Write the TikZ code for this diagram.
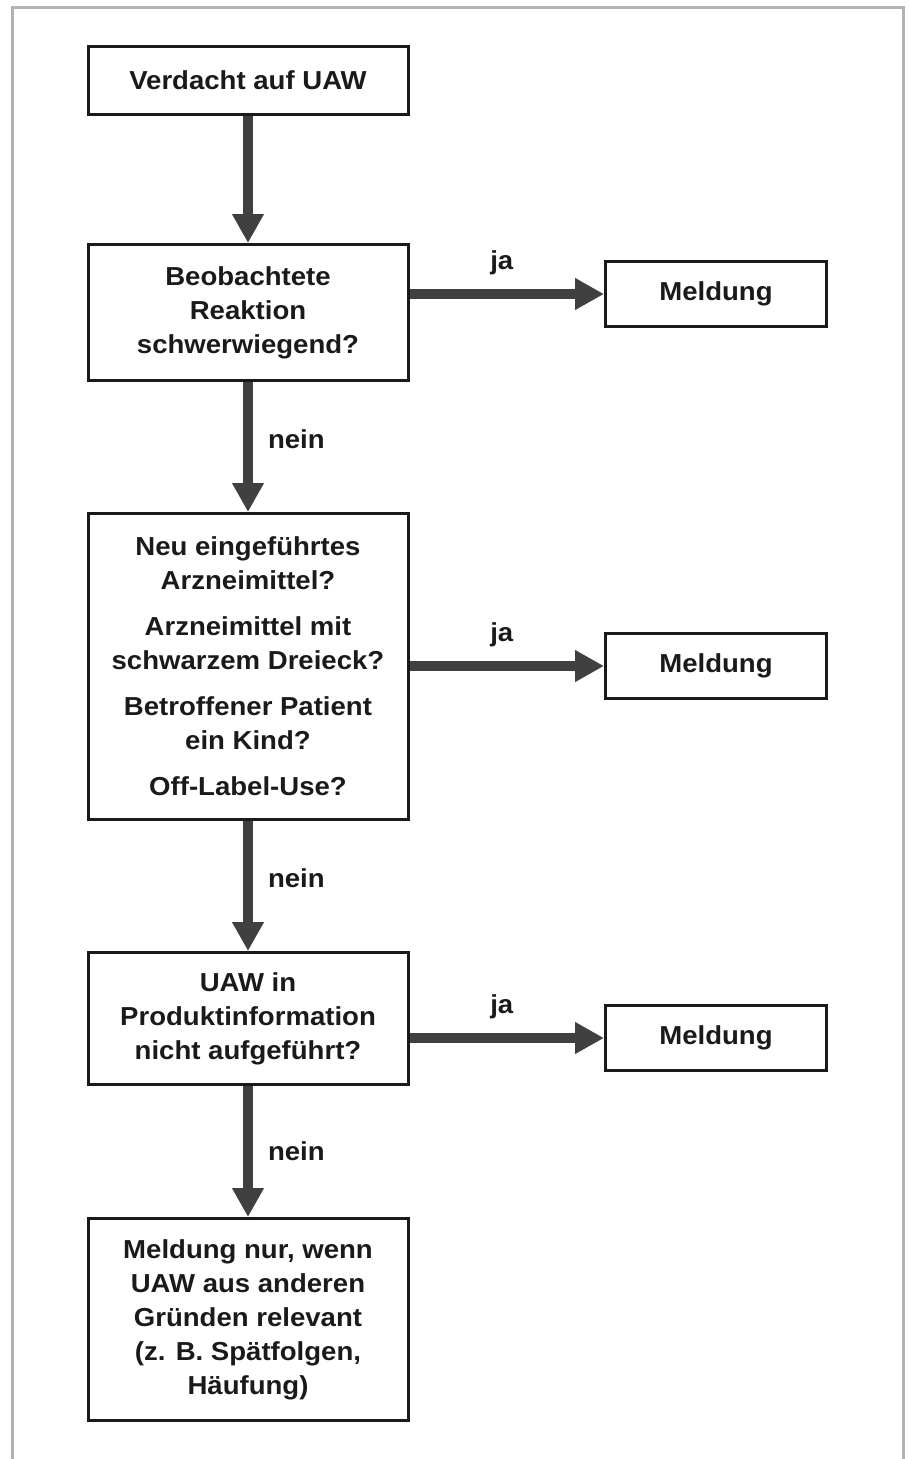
\documentclass[tikz,border=0pt]{standalone}
\usepackage{fontspec}
\setmainfont{Liberation Sans}[FakeStretch=1.06]
\usetikzlibrary{arrows.meta}
\definecolor{arrowgray}{HTML}{404040}
\definecolor{framegray}{HTML}{B3B3B3}
\definecolor{inkblack}{HTML}{1A1A1A}

\begin{document}
\begin{tikzpicture}[x=1pt,y=-1pt]
\tikzstyle{box}=[draw=inkblack,line width=3pt,minimum width=320pt,align=center,inner sep=0pt,text=inkblack,font=\fontsize{26}{34}\selectfont\bfseries];
\tikzstyle{meld}=[box,minimum width=221pt,minimum height=65pt];
\tikzstyle{flow}=[draw=arrowgray,line width=10pt,-{Triangle[width=30pt,length=29pt]}];
\tikzstyle{ans}=[inner sep=0pt,text=inkblack,font=\fontsize{26}{30}\selectfont\bfseries];
\useasboundingbox (0,0) rectangle (908,1459);
\draw [framegray,line width=3pt] (12.5,1460) -- (12.5,7) -- (903.5,7) -- (903.5,1460);

\node [box,minimum height=68pt] (b1) at (248,80.5) {Verdacht auf UAW};
\node [box,minimum height=136pt] (b2) at (248,312.5) {Beobachtete\\Reaktion\\schwerwiegend?};
\node [meld] (m1) at (716,294) {Meldung};
\node [box,minimum height=306pt] (b3) at (248,666.5) {Neu eingeführtes\\Arzneimittel?\\[12pt]Arzneimittel mit\\schwarzem Dreieck?\\[12pt]Betroffener Patient\\ein Kind?\\[12pt]Off-Label-Use?};
\node [meld] (m2) at (716,666) {Meldung};
\node [box,minimum height=132pt] (b4) at (248,1018.5) {UAW in\\Produktinformation\\nicht aufgeführt?};
\node [meld] (m3) at (716,1038) {Meldung};
\node [box,minimum height=202pt] (b5) at (248,1319.5) {Meldung nur, wenn\\UAW aus anderen\\Gründen relevant\\(z. B. Spätfolgen,\\Häufung)};

\draw [flow] (b1) -- (b2);
\draw [flow] (b2) -- node [ans,pos=0.44,right=15pt] {nein} (b3);
\draw [flow] (b3) -- node [ans,pos=0.44,right=15pt] {nein} (b4);
\draw [flow] (b4) -- node [ans,midway,right=15pt] {nein} (b5);
\draw [flow] (m1 -| b2.east) -- node [ans,midway,above=14pt,xshift=-5pt] {ja} (m1);
\draw [flow] (m2 -| b3.east) -- node [ans,midway,above=14pt,xshift=-5pt] {ja} (m2);
\draw [flow] (m3 -| b4.east) -- node [ans,midway,above=14pt,xshift=-5pt] {ja} (m3);
\end{tikzpicture}
\end{document}
